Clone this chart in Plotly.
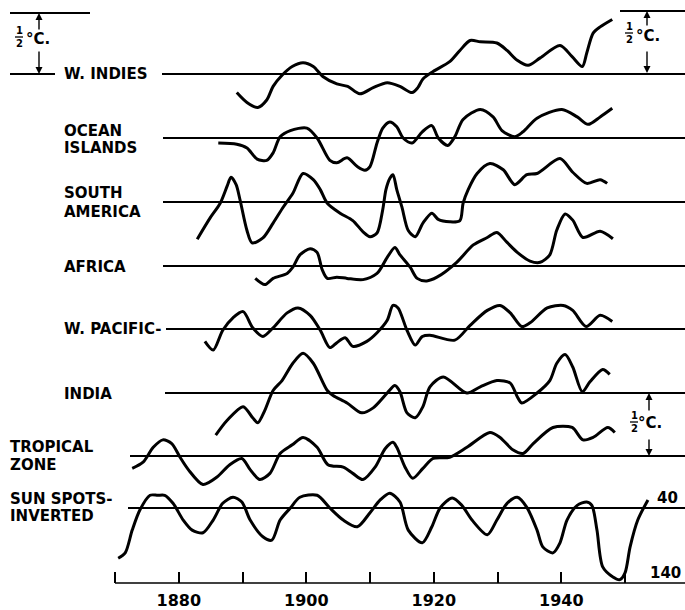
import plotly.graph_objects as go

# ---------------- data (year, deviation in deg C) ----------------
W_INDIES = [(1889.1, -0.15), (1890.7, -0.23), (1892.4, -0.27), (1893.8, -0.21), (1894.8, -0.10),
            (1896.2, -0.01), (1897.8, 0.06), (1899.5, 0.09), (1901.1, 0.06), (1902.6, -0.02),
            (1904.8, -0.08), (1906.5, -0.10), (1908.4, -0.16), (1910.5, -0.11), (1912.7, -0.07),
            (1914.7, -0.10), (1916.6, -0.15), (1917.5, -0.11), (1918.3, -0.04), (1919.9, 0.02),
            (1922.5, 0.10), (1924.1, 0.19), (1925.7, 0.27), (1927.3, 0.26), (1929.9, 0.25),
            (1931.5, 0.19), (1933.1, 0.11), (1934.8, 0.07), (1936.7, 0.13), (1939.8, 0.23),
            (1941.7, 0.14), (1943.3, 0.06), (1944.0, 0.17), (1945.0, 0.33), (1946.1, 0.38),
            (1948.0, 0.44)]

OCEAN_ISLANDS = [(1886.2, -0.04), (1889.1, -0.05), (1890.7, -0.08), (1892.3, -0.17), (1893.8, -0.18),
                 (1894.8, -0.12), (1895.9, 0.01), (1897.5, 0.06), (1900.1, 0.08), (1901.7, 0.00),
                 (1903.7, -0.18), (1904.8, -0.20), (1906.4, -0.16), (1908.0, -0.23), (1909.2, -0.26),
                 (1910.0, -0.23), (1911.1, -0.04), (1912.0, 0.08), (1913.1, 0.13), (1914.2, 0.09),
                 (1915.2, 0.00), (1916.6, -0.04), (1918.2, 0.05), (1919.7, 0.10), (1920.7, 0.00),
                 (1922.2, -0.06), (1923.3, 0.01), (1924.6, 0.15), (1927.3, 0.23), (1929.3, 0.17),
                 (1930.7, 0.06), (1932.7, 0.01), (1934.0, 0.05), (1936.2, 0.16), (1940.1, 0.23),
                 (1942.5, 0.17), (1944.2, 0.11), (1946.1, 0.17), (1948.0, 0.24)]

SOUTH_AMERICA = [(1882.9, -0.30), (1884.9, -0.13), (1886.5, -0.01), (1887.6, 0.13), (1888.2, 0.20),
                 (1889.0, 0.14), (1889.6, 0.02), (1890.7, -0.23), (1891.5, -0.33), (1893.2, -0.29),
                 (1894.8, -0.17), (1896.4, -0.04), (1897.9, 0.07), (1899.5, 0.23), (1901.1, 0.18),
                 (1902.2, 0.10), (1903.3, -0.01), (1905.3, -0.09), (1907.3, -0.15), (1908.9, -0.24),
                 (1910.0, -0.28), (1911.1, -0.25), (1912.0, -0.06), (1912.5, 0.10), (1913.1, 0.19),
                 (1913.6, 0.22), (1914.2, 0.10), (1915.0, -0.04), (1916.0, -0.23), (1917.1, -0.28),
                 (1918.3, -0.17), (1919.7, -0.09), (1920.7, -0.14), (1922.5, -0.16), (1924.1, -0.15),
                 (1924.6, -0.01), (1925.4, 0.10), (1926.8, 0.23), (1928.8, 0.31), (1930.9, 0.26),
                 (1932.7, 0.14), (1934.6, 0.22), (1936.2, 0.23), (1939.8, 0.35), (1941.8, 0.24),
                 (1944.0, 0.15), (1946.1, 0.18), (1947.2, 0.15)]

AFRICA = [(1892.0, -0.10), (1893.5, -0.15), (1894.8, -0.10), (1897.0, -0.06), (1897.9, -0.01),
          (1899.0, 0.09), (1900.6, 0.14), (1901.7, 0.11), (1902.5, -0.03), (1903.3, -0.10),
          (1904.8, -0.09), (1906.4, -0.10), (1908.9, -0.11), (1911.1, -0.06), (1912.7, 0.07),
          (1913.9, 0.15), (1914.7, 0.09), (1916.3, -0.01), (1917.4, -0.10), (1918.9, -0.12),
          (1920.5, -0.09), (1923.6, 0.03), (1926.2, 0.17), (1928.4, 0.23), (1929.9, 0.27),
          (1931.5, 0.19), (1933.1, 0.11), (1935.1, 0.04), (1936.7, 0.03), (1938.2, 0.09),
          (1939.3, 0.29), (1940.6, 0.42), (1941.8, 0.37), (1943.4, 0.23), (1946.1, 0.28),
          (1948.1, 0.22)]

W_PACIFIC = [(1884.1, -0.10), (1885.4, -0.17), (1886.9, -0.01), (1888.5, 0.09), (1890.1, 0.14),
             (1891.6, 0.01), (1893.2, -0.06), (1894.8, 0.01), (1897.0, 0.13), (1898.7, 0.17),
             (1900.6, 0.11), (1902.2, -0.01), (1903.7, -0.15), (1904.8, -0.11), (1906.1, -0.07),
             (1907.3, -0.14), (1909.5, -0.10), (1911.1, -0.03), (1912.7, 0.07), (1913.6, 0.19),
             (1914.4, 0.17), (1915.8, -0.01), (1917.1, -0.13), (1918.2, -0.06), (1919.4, -0.05),
             (1923.3, -0.09), (1925.7, 0.03), (1928.4, 0.15), (1930.4, 0.19), (1932.0, 0.13),
             (1933.8, 0.02), (1935.1, 0.05), (1937.8, 0.17), (1940.3, 0.19), (1941.8, 0.15),
             (1943.9, 0.02), (1946.1, 0.11), (1948.0, 0.06)]

INDIA = [(1885.8, -0.34), (1887.6, -0.22), (1890.1, -0.11), (1891.6, -0.20), (1892.4, -0.24),
         (1893.5, -0.14), (1894.8, 0.02), (1896.2, 0.10), (1897.9, 0.24), (1899.5, 0.32),
         (1901.1, 0.24), (1903.3, 0.02), (1904.2, -0.02), (1906.4, -0.08), (1908.7, -0.16),
         (1910.5, -0.12), (1912.7, 0.00), (1913.9, 0.06), (1914.7, 0.01), (1915.8, -0.16),
         (1917.1, -0.20), (1918.3, -0.11), (1919.4, 0.05), (1921.5, 0.13), (1925.2, 0.00),
         (1927.3, 0.05), (1929.9, 0.10), (1932.0, 0.08), (1933.1, -0.03), (1933.8, -0.08),
         (1936.2, 0.00), (1938.2, 0.10), (1939.3, 0.24), (1940.6, 0.31), (1941.8, 0.21),
         (1943.3, 0.01), (1944.5, 0.09), (1946.5, 0.19), (1947.6, 0.15)]

TROPICAL_ZONE = [(1872.7, -0.10), (1874.4, -0.05), (1876.0, 0.07), (1877.5, 0.13), (1878.9, 0.10),
                 (1880.2, -0.01), (1881.5, -0.11), (1883.8, -0.23), (1886.0, -0.17), (1888.0, -0.07),
                 (1889.9, -0.02), (1891.2, -0.11), (1892.7, -0.19), (1894.3, -0.14), (1895.9, 0.02),
                 (1897.8, 0.09), (1899.5, 0.15), (1901.7, 0.07), (1903.4, -0.07), (1905.8, -0.09),
                 (1907.3, -0.14), (1908.9, -0.19), (1910.8, -0.09), (1912.4, 0.06), (1913.6, 0.11),
                 (1914.2, 0.07), (1915.5, -0.09), (1916.7, -0.18), (1918.3, -0.10), (1919.9, -0.02),
                 (1922.5, -0.01), (1925.2, 0.07), (1928.8, 0.19), (1930.4, 0.15), (1932.4, 0.05),
                 (1934.0, 0.02), (1935.6, 0.10), (1938.7, 0.23), (1941.7, 0.23), (1943.4, 0.13),
                 (1945.0, 0.15), (1947.3, 0.23), (1948.4, 0.19)]

# (year, sunspot number) -- plotted inverted
SUN_SPOTS = [(1870.5, 115), (1871.6, 107), (1872.7, 73), (1873.9, 43), (1875.5, 21), (1876.7, 21),
             (1877.8, 21), (1879.1, 33), (1880.7, 58), (1882.1, 73), (1883.8, 77), (1885.4, 58),
             (1886.9, 33), (1888.5, 24), (1889.9, 31), (1891.2, 58), (1893.2, 83), (1894.6, 88),
             (1895.9, 58), (1897.5, 40), (1899.0, 24), (1901.7, 21), (1903.7, 40), (1905.8, 58),
             (1908.0, 68), (1910.0, 47), (1911.6, 28), (1913.1, 18), (1914.7, 31), (1916.0, 73),
             (1918.2, 92), (1919.7, 68), (1921.0, 40), (1922.9, 25), (1924.4, 36), (1926.0, 58),
             (1928.4, 80), (1929.9, 58), (1931.5, 33), (1933.1, 24), (1934.6, 39), (1936.2, 73),
             (1937.1, 98), (1938.7, 107), (1939.8, 92), (1940.9, 58), (1942.5, 36), (1944.0, 31),
             (1944.8, 36), (1945.6, 73), (1946.5, 128), (1948.1, 143), (1949.2, 147), (1950.0, 137),
             (1950.8, 98), (1952.0, 58), (1953.6, 28)]

TICK_YEARS = [1870, 1880, 1890, 1900, 1910, 1920, 1930, 1940, 1950]
TICK_LABELS = ["", "1880", "", "1900", "", "1920", "", "1940", ""]
SUNSPOT_REF = [40, 140]

# ---------------- layout geometry ----------------
W, H, PLOT_H = 685, 610, 583
C_PER_PX = 1 / 124.0                     # deg C per pixel
X_RANGE = [1851.96, 1959.41]
Y_RANGE = [(74 - PLOT_H) * C_PER_PX, 74 * C_PER_PX]
SS_SCALE = 0.0054                        # deg-C-equivalent per sunspot unit


def off(base_px):
    return (74 - base_px) * C_PER_PX


def px(xp):
    return xp / W


def py(yp):
    return (PLOT_H - yp) / PLOT_H


FONT = "DejaVu Sans"
temp_series = [
    (W_INDIES, 74, 162), (OCEAN_ISLANDS, 138, 163), (SOUTH_AMERICA, 202, 163),
    (AFRICA, 266, 163), (W_PACIFIC, 329, 166), (INDIA, 393, 165), (TROPICAL_ZONE, 456, 130),
]

fig = go.Figure()
shapes = []
annotations = []

for data, base, xstart in temp_series:
    o = off(base)
    fig.add_trace(go.Scatter(x=[d[0] for d in data], y=[o + d[1] for d in data], mode="lines",
                             line=dict(color="black", width=3, shape="spline", smoothing=0.8),
                             hoverinfo="skip", showlegend=False))
    shapes.append(dict(type="line", xref="paper", yref="y", x0=px(xstart), x1=1, y0=o, y1=o,
                       line=dict(color="black", width=1.8)))

ss_off = off(508)
fig.add_trace(go.Scatter(x=[d[0] for d in SUN_SPOTS],
                         y=[ss_off - (d[1] - SUNSPOT_REF[0]) * SS_SCALE for d in SUN_SPOTS],
                         mode="lines", line=dict(color="black", width=3, shape="spline", smoothing=0.8),
                         hoverinfo="skip", showlegend=False))
shapes.append(dict(type="line", xref="paper", yref="y", x0=px(128), x1=1, y0=ss_off, y1=ss_off,
                   line=dict(color="black", width=1.8)))

# left stub of W. Indies line and scale lines
shapes.append(dict(type="line", xref="paper", yref="paper", x0=px(10), x1=px(55), y0=py(74), y1=py(74),
                   line=dict(color="black", width=1.8)))
shapes.append(dict(type="line", xref="paper", yref="paper", x0=px(10), x1=px(90), y0=py(13), y1=py(13),
                   line=dict(color="black", width=1.8)))
shapes.append(dict(type="line", xref="paper", yref="paper", x0=px(620), x1=1, y0=py(11), y1=py(11),
                   line=dict(color="black", width=1.8)))

# x axis line
shapes.append(dict(type="line", xref="x", yref="paper", x0=1870, x1=X_RANGE[1], y0=0, y1=0,
                   line=dict(color="black", width=1.6)))


def label(text, x, y, size=15, anchor="left", bold=True):
    annotations.append(dict(text=f"<b>{text}</b>" if bold else text, xref="paper", yref="paper",
                            x=px(x), y=py(y), xanchor=anchor, yanchor="middle", showarrow=False,
                            font=dict(family=FONT, size=size, color="black")))


def scale_marker(ax_x, top, bottom, up_tail, down_tail, frac_x, frac_y, c_x, c_y):
    annotations.append(dict(text="", xref="paper", yref="paper", x=px(ax_x), y=py(top),
                            ax=0, ay=up_tail - top, showarrow=True, arrowhead=2, arrowsize=1,
                            arrowwidth=1.4, arrowcolor="black", standoff=0))
    annotations.append(dict(text="", xref="paper", yref="paper", x=px(ax_x), y=py(bottom),
                            ax=0, ay=down_tail - bottom, showarrow=True, arrowhead=2, arrowsize=1,
                            arrowwidth=1.4, arrowcolor="black", standoff=0))
    label("1<br>2", frac_x, frac_y, size=10, anchor="center")
    shapes.append(dict(type="line", xref="paper", yref="paper", x0=px(frac_x - 4), x1=px(frac_x + 4),
                       y0=py(frac_y), y1=py(frac_y), line=dict(color="black", width=1.3)))
    label("°C.", c_x, c_y, size=15, anchor="center")


scale_marker(39, 13, 74, 31, 50, 19, 37, 38, 39)
scale_marker(647, 11, 73, 27, 50, 629, 33, 648, 36)
scale_marker(649, 393, 456, 412, 438, 634, 422, 650, 423)

label("W. INDIES", 62, 74)
label("OCEAN", 62, 131)
label("ISLANDS", 62, 148)
label("SOUTH", 62, 193)
label("AMERICA", 62, 212)
label("AFRICA", 62, 267)
label("W. PACIFIC-", 62, 329)
label("INDIA", 62, 394)
label("TROPICAL", 8, 447)
label("ZONE", 8, 465)
label("SUN SPOTS-", 8, 499)
label("INVERTED", 8, 516)
label(str(SUNSPOT_REF[0]), 667, 498, size=15, anchor="center")
label(str(SUNSPOT_REF[1]), 665, 573, size=15, anchor="center")

fig.update_layout(
    width=W, height=H, margin=dict(l=0, r=0, t=0, b=H - PLOT_H),
    paper_bgcolor="white", plot_bgcolor="white",
    shapes=shapes, annotations=annotations, showlegend=False,
    xaxis=dict(range=X_RANGE, tickvals=TICK_YEARS, ticktext=[f"<b>{t}</b>" if t else "" for t in TICK_LABELS],
               ticks="inside", ticklen=11, tickwidth=1.5, tickcolor="black", showline=False,
               showgrid=False, zeroline=False, tickfont=dict(family=FONT, size=16, color="black"),
               ticklabelstandoff=6, fixedrange=True),
    yaxis=dict(range=Y_RANGE, visible=False, fixedrange=True),
)

fig.write_html("out.html", config={"displayModeBar": False},
               post_script="document.body.style.margin='0';document.body.style.padding='0';")
